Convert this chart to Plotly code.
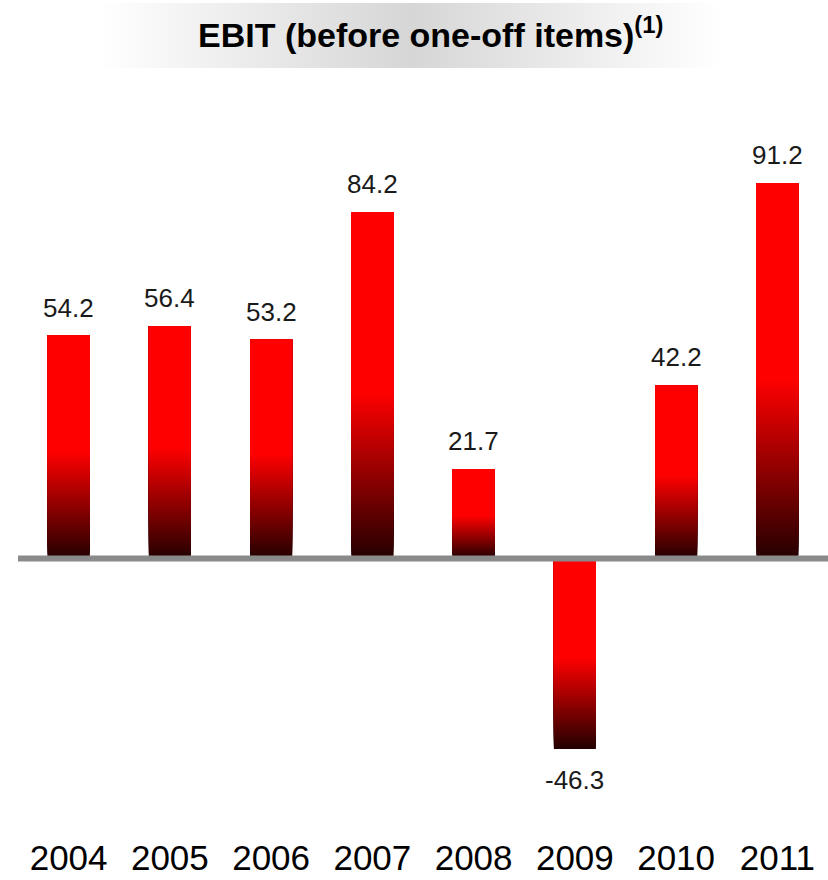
import base64
import plotly.graph_objects as go

# ---- data ----
years = ["2004", "2005", "2006", "2007", "2008", "2009", "2010", "2011"]
ebit = [54.2, 56.4, 53.2, 84.2, 21.7, -46.3, 42.2, 91.2]
title_text = "<b>EBIT (before one-off items)</b><sup><b>(1)</b></sup>"

# ---- styling ----
FONT = "Liberation Sans, Arial, sans-serif"
RED = (255, 0, 0)
DARK = (36, 0, 0)
SOLID_FRAC = 0.52   # upper part of every bar is pure red
N_STEPS = 48        # gradient steps in lower part
BAR_W = 0.415

W, H = 828, 880
ML, MR, MT, MB = 18, 0, 106, 50
YR = [-66, 110]


def mix(a, b, t):
    return "rgb(%d,%d,%d)" % tuple(round(a[k] + (b[k] - a[k]) * t) for k in range(3))


lows = [min(0, v) for v in ebit]
spans = [abs(v) for v in ebit]

fig = go.Figure()
for i in range(N_STEPS):
    f0 = (i / N_STEPS) * (1 - SOLID_FRAC)
    col = mix(DARK, RED, (i + 0.5) / N_STEPS)
    fig.add_bar(
        x=years,
        base=[lo + f0 * s for lo, s in zip(lows, spans)],
        y=[s * (1 - f0) for s in spans],
        width=BAR_W,
        marker=dict(color=col, line=dict(width=0)),
        hoverinfo="skip", showlegend=False,
    )
f0 = 1 - SOLID_FRAC
fig.add_bar(
    x=years,
    base=[lo + f0 * s for lo, s in zip(lows, spans)],
    y=[s * (1 - f0) for s in spans],
    width=BAR_W,
    marker=dict(color="rgb(255,0,0)", line=dict(width=0)),
    hoverinfo="skip", showlegend=False,
)

# value labels (x given as category index)
for idx, v in enumerate(ebit):
    fig.add_annotation(
        x=idx, y=v, text="%.1f" % v, showarrow=False,
        yanchor="bottom" if v >= 0 else "top",
        yshift=11 if v >= 0 else -14,
        font=dict(family=FONT, size=26, color="#1a1a1a"),
    )

# zero line above bars
fig.add_shape(type="line", xref="paper", yref="y", x0=0, x1=1, y0=0, y1=0,
              line=dict(color="#8a8a8a", width=6), layer="above")

# title background gradient band
svg = ('<svg xmlns="http://www.w3.org/2000/svg" width="620" height="66" preserveAspectRatio="none">'
       '<defs><linearGradient id="g" x1="0" y1="0" x2="1" y2="0">'
       '<stop offset="0" stop-color="#ffffff"/><stop offset="0.5" stop-color="#d6d6d6"/>'
       '<stop offset="1" stop-color="#ffffff"/></linearGradient></defs>'
       '<rect width="620" height="66" fill="url(#g)"/></svg>')
src = "data:image/svg+xml;base64," + base64.b64encode(svg.encode()).decode()
pw = W - ML - MR
ph = H - MT - MB
bx0, bx1, by0, by1 = 100, 720, 3, 68
fig.add_layout_image(
    source=src, xref="paper", yref="paper",
    x=(bx0 - ML) / pw, y=(H - MB - by0) / ph,
    sizex=(bx1 - bx0) / pw, sizey=(by1 - by0) / ph,
    xanchor="left", yanchor="top", sizing="stretch", layer="below",
)

fig.add_annotation(
    xref="paper", yref="paper", x=(430 - ML) / pw, y=(H - MB - 33) / ph,
    text=title_text, showarrow=False, xanchor="center", yanchor="middle",
    font=dict(family=FONT, size=34, color="#000000"),
)

fig.update_layout(
    width=W, height=H,
    margin=dict(l=ML, r=MR, t=MT, b=MB, pad=0),
    barmode="overlay",
    plot_bgcolor="white", paper_bgcolor="white",
    xaxis=dict(type="category", showgrid=False, showline=False, zeroline=False, ticks="",
               tickfont=dict(family=FONT, size=35, color="#000000"),
               ticklabelstandoff=4, fixedrange=True),
    yaxis=dict(range=YR, visible=False, fixedrange=True),
    showlegend=False,
)

fig.write_html(
    "out.html",
    config={"displayModeBar": False},
    post_script="document.body.style.margin='0';document.body.style.overflow='hidden';",
)
